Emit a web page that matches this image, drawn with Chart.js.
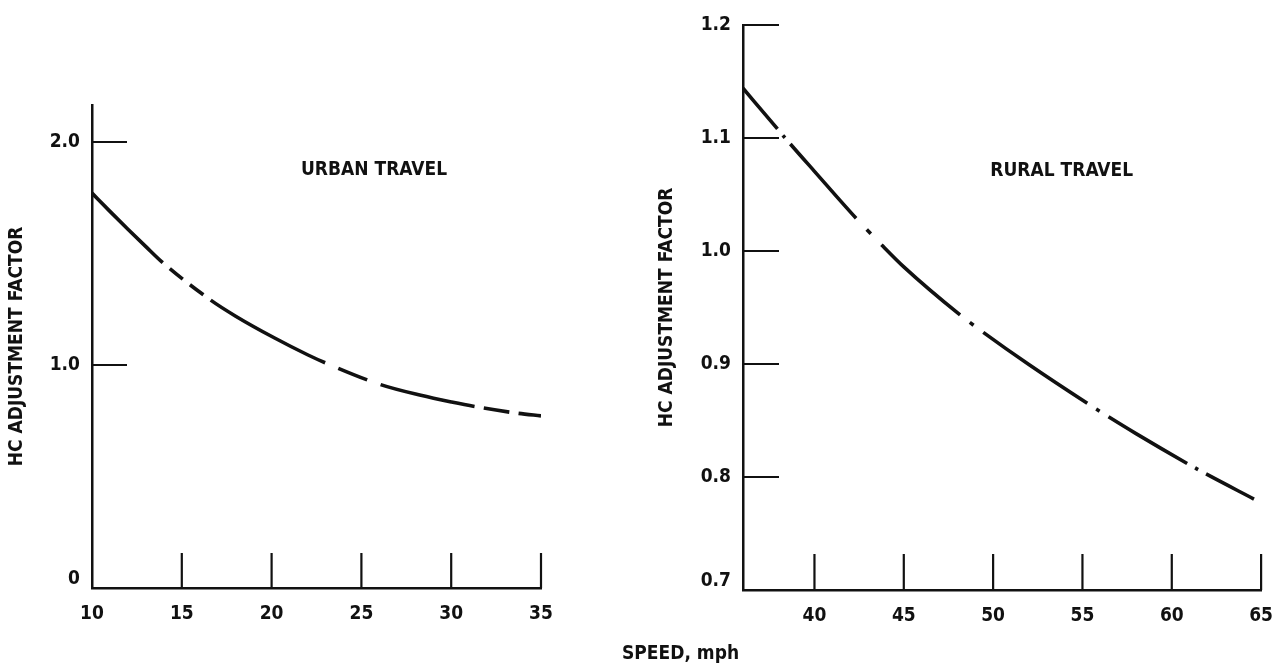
<!DOCTYPE html>
<html>
<head>
<meta charset="utf-8">
<script src="https://cdn.jsdelivr.net/npm/chart.js@4.4.1/dist/chart.umd.min.js"></script>
<style>
  html, body { margin: 0; padding: 0; background: #fff; }
  body { width: 1288px; height: 672px; position: relative; overflow: hidden; }
  canvas { position: absolute; top: 0; }
  #urbanChart { left: 0; }
  #ruralChart { left: 620px; }
  #speedLabel {
    position: absolute; left: 622px; top: 641px;
    font: bold 19px 'Liberation Sans Narrow', 'DejaVu Sans Condensed', 'Arial Narrow', sans-serif;
    color: #111; white-space: nowrap;
  }
</style>
</head>
<body>
<canvas id="urbanChart" width="620" height="672"></canvas>
<canvas id="ruralChart" width="668" height="672"></canvas>
<div id="speedLabel">SPEED, mph</div>
<script>
// urban travel curve (left panel)
const urbanSpeed  = [10, 11, 12, 13, 13.94, 16.61, 18, 20.17, 22, 22.98, 26.07, 28.31, 30.02, 31.3, 33.75, 35];
const urbanFactor = [1.771, 1.689, 1.609, 1.531, 1.459, 1.291, 1.219, 1.121, 1.046, 1.01, 0.912, 0.864, 0.834, 0.814, 0.783, 0.772];
const urbanXTicks = [10, 15, 20, 25, 30, 35];
const urbanYTicks = [0, 1.0, 2.0];

// rural travel curve (right panel)
const ruralSpeed  = [36, 37.93, 38.65, 40, 42.33, 43.75, 45, 48.15, 49.45, 52, 55.27, 56.46, 58, 60.86, 61.92, 64.6];
const ruralFactor = [1.144, 1.108, 1.0947, 1.0705, 1.029, 1.0056, 0.986, 0.9435, 0.928, 0.8995, 0.8652, 0.8533, 0.8384, 0.812, 0.8027, 0.7805];
const ruralXTicks = [40, 45, 50, 55, 60, 65];
const ruralYTicks = [0.7, 0.8, 0.9, 1.0, 1.1, 1.2];

const FONT = "'Liberation Sans Narrow', 'DejaVu Sans Condensed', 'Arial Narrow', sans-serif";
Chart.defaults.font.family = FONT;
Chart.defaults.color = '#111';

/* ---------- broken parts of the curves ---------- */

// each run: segment starting at `from`, n dashes, gap as share of the segment
const urbanRuns = [
  { from: 13.94, n: 2, gap: 0.15 },
  { from: 22.98, n: 1, gap: 0.24 },
  { from: 31.3,  n: 1, gap: 0.21 }
];
const ruralRuns = [37.93, 42.33, 48.15, 55.27, 60.86].map(v => ({ from: v, n: 1, gap: 0.42 }));

function dashRuns(speed, runs) {
  const build = ctx => {
    const r = runs.find(r => r.from === speed[ctx.p0DataIndex]);
    if (!r) return null;
    const len = Math.hypot(ctx.p1.x - ctx.p0.x, ctx.p1.y - ctx.p0.y);
    const g = len * r.gap;
    const d = (len - (r.n + 1) * g) / r.n;
    const pattern = [];
    for (let i = 0; i < r.n; i++) pattern.push(d, i < r.n - 1 ? g : 1000);
    const total = pattern.reduce((a, b) => a + b, 0);
    return { pattern: pattern, offset: total - g };
  };
  return {
    borderDash: ctx => { const b = build(ctx); return b ? b.pattern : undefined; },
    borderDashOffset: ctx => { const b = build(ctx); return b ? b.offset : undefined; }
  };
}

/* ---------- inward tick marks + panel label ---------- */

const innerTicks = {
  id: 'innerTicks',
  afterDraw(chart, args, opts) {
    const ctx = chart.ctx;
    const xs = chart.scales.x, ys = chart.scales.y;
    ctx.save();
    ctx.strokeStyle = '#111';
    ctx.lineWidth = 2.2;
    ctx.beginPath();
    xs.ticks.forEach(t => {
      if (t.value === xs.min) return;
      const px = xs.getPixelForValue(t.value);
      ctx.moveTo(px, ys.bottom);
      ctx.lineTo(px, ys.bottom - opts.length);
    });
    ys.ticks.forEach(t => {
      if (t.value === ys.min) return;
      const py = ys.getPixelForValue(t.value);
      ctx.moveTo(xs.left, py);
      ctx.lineTo(xs.left + opts.length, py);
    });
    ctx.stroke();

    ctx.fillStyle = '#111';
    ctx.font = "bold 19px " + FONT;
    ctx.textAlign = 'center';
    ctx.textBaseline = 'middle';
    ctx.fillText(opts.text, xs.getPixelForValue(opts.at[0]), ys.getPixelForValue(opts.at[1]));
    ctx.restore();
  }
};

/* ---------- panels ---------- */

function makePanel(canvas, speed, factor, xTicks, yTicks, runs, cfg) {
  return new Chart(canvas, {
    type: 'line',
    data: {
      datasets: [{
        data: speed.map((x, i) => ({ x: x, y: factor[i] })),
        borderColor: '#111',
        borderWidth: 3.6,
        borderCapStyle: 'butt',
        pointRadius: 0,
        fill: false,
        cubicInterpolationMode: 'monotone',
        segment: dashRuns(speed, runs)
      }]
    },
    options: {
      responsive: false,
      animation: false,
      layout: { padding: cfg.padding },
      plugins: {
        legend: { display: false },
        tooltip: { enabled: false },
        innerTicks: { length: cfg.tickLen, text: cfg.label, at: cfg.labelAt }
      },
      scales: {
        x: {
          type: 'linear',
          min: cfg.xMin, max: cfg.xMax,
          afterBuildTicks: s => { s.ticks = xTicks.map(v => ({ value: v })); },
          afterFit: s => { s.height = cfg.xHeight; },
          grid: { display: false, drawTicks: false },
          border: { display: true, color: '#111', width: 2.5 },
          ticks: { font: { size: 19, weight: 'bold' }, padding: 15, maxRotation: 0, autoSkip: false }
        },
        y: {
          min: cfg.yMin, max: cfg.yMax,
          afterBuildTicks: s => { s.ticks = yTicks.map(v => ({ value: v })); },
          afterFit: s => { s.width = cfg.yWidth; },
          grid: { display: false, drawTicks: false },
          border: { display: true, color: '#111', width: 2.5 },
          ticks: {
            font: { size: 19, weight: 'bold', lineHeight: 0.9 },
            padding: 12,
            autoSkip: false,
            callback: v => v === cfg.yMin ? [cfg.yFmt(v), ''] : cfg.yFmt(v)
          },
          title: {
            display: true,
            text: 'HC ADJUSTMENT FACTOR',
            font: { size: 19, weight: 'bold' },
            padding: { top: 6, bottom: 0 }
          }
        }
      }
    },
    plugins: [innerTicks]
  });
}

makePanel(document.getElementById('urbanChart'), urbanSpeed, urbanFactor, urbanXTicks, urbanYTicks, urbanRuns, {
  padding: { left: 0, top: 105, right: 79, bottom: 0 },
  xMin: 10, xMax: 35, yMin: 0, yMax: 2.166,
  xHeight: 84, yWidth: 92, tickLen: 35,
  yFmt: v => v === 0 ? '0' : v.toFixed(1),
  label: 'URBAN TRAVEL', labelAt: [25.7, 1.875]
});

makePanel(document.getElementById('ruralChart'), ruralSpeed, ruralFactor, ruralXTicks, ruralYTicks, ruralRuns, {
  padding: { left: 30, top: 25, right: 25, bottom: 0 },
  xMin: 36, xMax: 65, yMin: 0.7, yMax: 1.2,
  xHeight: 82, yWidth: 93, tickLen: 36,
  yFmt: v => v.toFixed(1),
  label: 'RURAL TRAVEL', labelAt: [53.84, 1.071]
});
</script>
</body>
</html>
